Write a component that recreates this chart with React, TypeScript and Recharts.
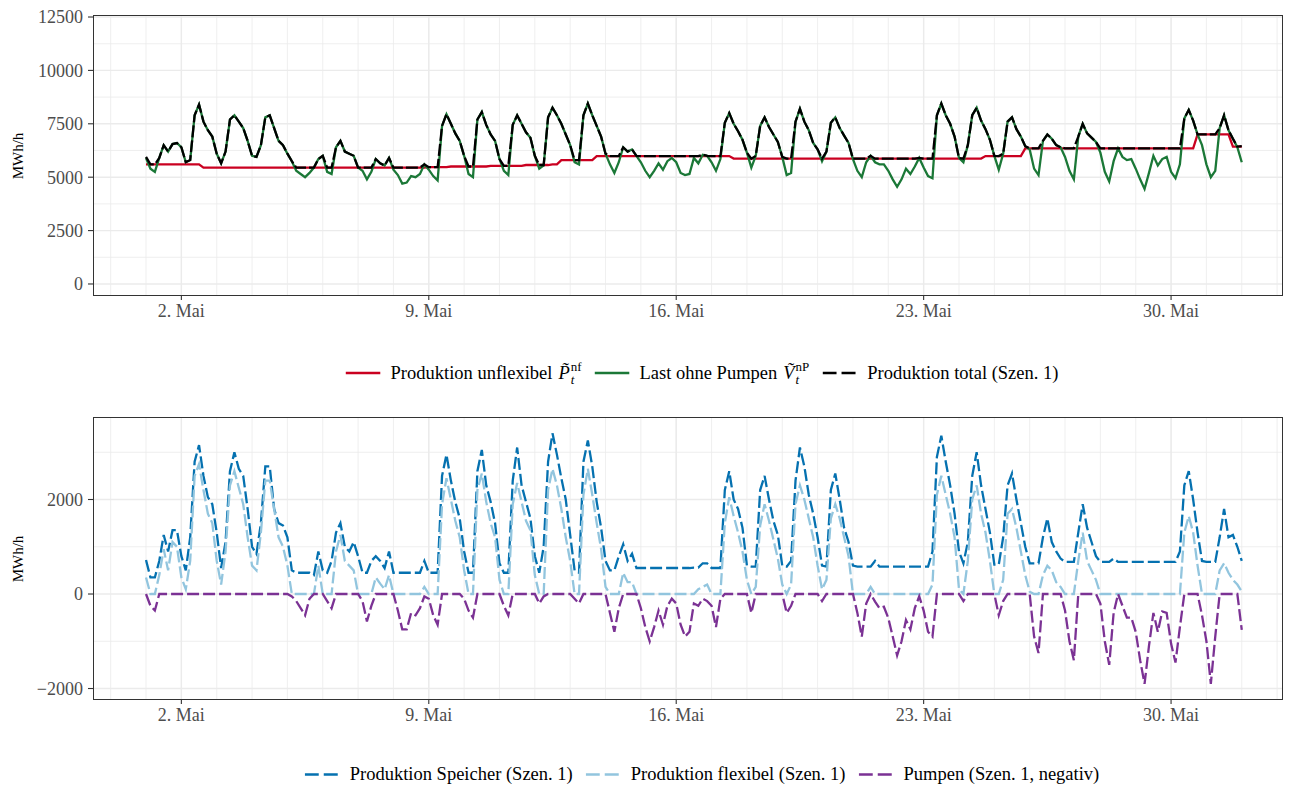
import React from "react";
import { LineChart, Line, XAxis, YAxis, CartesianGrid } from "recharts";

// Stunden seit 1. Mai 00:00, Raster 3 h (31 Tage + Endpunkt)
const hours = Array.from({ length: 249 }, (_, i) => i * 3);

const xTickHours = [24, 192, 360, 528, 696];
const xTickLabels = ["2. Mai", "9. Mai", "16. Mai", "23. Mai", "30. Mai"];
const dayLines = Array.from({ length: 34 }, (_, i) => (i - 1) * 24);

const topTicks = [0, 2500, 5000, 7500, 10000, 12500];
const topMinor = [1250, 3750, 6250, 8750, 11250];
const botTicks = [-2000, 0, 2000];
const botMinor = [-1000, 1000, 3000];

// Produktion unflexibel
const unflexibel = [
  5600, 5600, 5600, 5600, 5600, 5600, 5600, 5600,
  5600, 5600, 5600, 5600, 5600, 5450, 5450, 5450,
  5450, 5450, 5450, 5450, 5450, 5450, 5450, 5450,
  5450, 5450, 5450, 5450, 5450, 5450, 5450, 5450,
  5450, 5450, 5450, 5450, 5450, 5450, 5450, 5450,
  5450, 5450, 5450, 5450, 5450, 5450, 5450, 5450,
  5450, 5450, 5450, 5450, 5450, 5450, 5450, 5450,
  5450, 5450, 5450, 5450, 5450, 5450, 5450, 5450,
  5470, 5470, 5470, 5470, 5470, 5500, 5500, 5500,
  5500, 5500, 5500, 5500, 5500, 5500, 5530, 5530,
  5530, 5530, 5530, 5530, 5530, 5530, 5570, 5570,
  5570, 5570, 5570, 5570, 5600, 5600, 5800, 5800,
  5800, 5800, 5800, 5800, 5800, 5800, 5990, 5990,
  5990, 5990, 5990, 5990, 5990, 5990, 5990, 5990,
  5990, 5990, 5990, 5990, 5990, 5990, 5990, 5990,
  5990, 5990, 5990, 5990, 5990, 5990, 5990, 5990,
  5990, 5990, 5990, 5990, 5990, 5870, 5870, 5870,
  5870, 5870, 5870, 5870, 5870, 5870, 5870, 5870,
  5870, 5870, 5870, 5870, 5870, 5870, 5870, 5870,
  5870, 5870, 5870, 5870, 5870, 5870, 5870, 5870,
  5870, 5870, 5870, 5870, 5870, 5870, 5870, 5870,
  5870, 5870, 5870, 5870, 5870, 5870, 5870, 5870,
  5870, 5870, 5870, 5870, 5870, 5870, 5870, 5870,
  5870, 5870, 5870, 5870, 5870, 5870, 5990, 5990,
  5990, 5990, 5990, 5990, 5990, 5990, 5990, 6350,
  6350, 6350, 6350, 6350, 6350, 6350, 6350, 6350,
  6350, 6350, 6350, 6350, 6350, 6350, 6350, 6350,
  6350, 6350, 6350, 6350, 6350, 6350, 6350, 6350,
  6350, 6350, 6350, 6350, 6350, 6350, 6350, 6350,
  6350, 6350, 6350, 6350, 6350, 6350, 7000, 7000,
  7000, 7000, 7000, 7000, 7000, 7000, 6430, 6430,
  6430,
];

// Last ohne Pumpen
const lastOhnePumpen = [
  5900, 5400, 5250, 5900, 6500, 6200, 6550, 6600,
  6400, 5700, 5800, 7900, 8400, 7600, 7200, 6900,
  6100, 5650, 6200, 7700, 7900, 7600, 7300, 6700,
  6000, 5950, 6500, 7800, 7900, 7300, 6700, 6500,
  6100, 5750, 5300, 5150, 5000, 5200, 5450, 5850,
  6000, 5250, 5150, 6400, 6700, 6200, 6100, 6000,
  5450, 5300, 4900, 5250, 5850, 5650, 5550, 5900,
  5350, 5100, 4700, 4750, 5050, 5000, 5150, 5600,
  5350, 5050, 4850, 7400, 7950, 7500, 7050, 6700,
  6000, 5150, 5000, 7700, 8050, 7450, 7000, 6700,
  5850, 5300, 5100, 7450, 7900, 7500, 7100, 6850,
  6000, 5400, 5550, 7800, 8250, 7900, 7500, 7000,
  6500, 5700, 5600, 7900, 8450, 7900, 7400, 6900,
  6100, 5600, 5200, 5700, 6400, 6200, 6300, 6000,
  5700, 5300, 5000, 5300, 5650, 5350, 5750, 5900,
  5700, 5200, 5100, 5150, 5900, 5650, 6050, 6000,
  5700, 5300, 5850, 7550, 8000, 7500, 7150, 6750,
  6150, 5450, 6000, 7400, 7800, 7350, 7000, 6650,
  5950, 5100, 5200, 7600, 8200, 7600, 7200, 6600,
  6300, 5750, 6200, 7550, 7800, 7300, 6950, 6600,
  5850, 5300, 5000, 5700, 6000, 5700, 5600, 5600,
  5300, 4900, 4550, 4900, 5400, 5150, 5500, 5900,
  5450, 5050, 4950, 7900, 8450, 7900, 7500, 6900,
  5900, 5700, 6500, 7900, 8250, 7650, 7250, 6750,
  6000, 5350, 6100, 7600, 7800, 7250, 6900, 6450,
  6300, 5400, 5100, 6700, 7000, 6800, 6500, 6400,
  5950, 5300, 4900, 6900, 7500, 7050, 6850, 6650,
  6150, 5250, 4800, 5750, 6350, 5950, 5800, 5850,
  5400, 4900, 4450, 5200, 6000, 5550, 5850, 5950,
  5250, 4950, 5600, 7750, 8150, 7650, 7000, 6500,
  5600, 5000, 5300, 7300, 7900, 7200, 6800, 6400,
  5700,
];

// Produktion total (Szen. 1)
const produktionTotal = [
  5950, 5600, 5600, 5900, 6500, 6200, 6550, 6600,
  6400, 5700, 5800, 7900, 8400, 7600, 7200, 6900,
  6100, 5650, 6200, 7700, 7900, 7600, 7300, 6700,
  6000, 5950, 6500, 7800, 7900, 7300, 6700, 6500,
  6100, 5750, 5450, 5450, 5450, 5450, 5450, 5850,
  6000, 5450, 5450, 6400, 6700, 6200, 6100, 6000,
  5450, 5450, 5450, 5450, 5850, 5650, 5550, 5900,
  5450, 5450, 5450, 5450, 5450, 5450, 5450, 5600,
  5470, 5470, 5470, 7400, 7950, 7500, 7050, 6700,
  6000, 5500, 5500, 7700, 8050, 7450, 7000, 6700,
  5850, 5530, 5530, 7450, 7900, 7500, 7100, 6850,
  6000, 5570, 5570, 7800, 8250, 7900, 7500, 7000,
  6500, 5800, 5800, 7900, 8450, 7900, 7400, 6900,
  6100, 5990, 5990, 5990, 6400, 6200, 6300, 6000,
  5990, 5990, 5990, 5990, 5990, 5990, 5990, 5990,
  5990, 5990, 5990, 5990, 5990, 5990, 6050, 6000,
  5990, 5990, 5990, 7550, 8000, 7500, 7150, 6750,
  6150, 5870, 6000, 7400, 7800, 7350, 7000, 6650,
  5950, 5870, 5870, 7600, 8200, 7600, 7200, 6600,
  6300, 5870, 6200, 7550, 7800, 7300, 6950, 6600,
  5870, 5870, 5870, 5870, 6000, 5870, 5870, 5870,
  5870, 5870, 5870, 5870, 5870, 5870, 5870, 5900,
  5870, 5870, 5870, 7900, 8450, 7900, 7500, 6900,
  5900, 5870, 6500, 7900, 8250, 7650, 7250, 6750,
  6000, 5990, 6100, 7600, 7800, 7250, 6900, 6450,
  6350, 6350, 6350, 6700, 7000, 6800, 6500, 6400,
  6350, 6350, 6350, 6900, 7500, 7050, 6850, 6650,
  6350, 6350, 6350, 6350, 6350, 6350, 6350, 6350,
  6350, 6350, 6350, 6350, 6350, 6350, 6350, 6350,
  6350, 6350, 6350, 7750, 8150, 7650, 7000, 7000,
  7000, 7000, 7000, 7300, 7900, 7200, 6800, 6430,
  6450,
];

// Produktion Speicher (Szen. 1)
const speicher = [
  720, 350, 350, 700, 1250, 900, 1350, 1350,
  800, 500, 1200, 2800, 3150, 2500, 2050, 1900,
  1300, 550, 1100, 2600, 3000, 2650, 2500, 1800,
  1000, 850, 1500, 2700, 2700, 1800, 1500, 1450,
  1200, 500, 450, 450, 450, 450, 400, 900,
  500, 450, 700, 1300, 1500, 1000, 900, 1100,
  800, 450, 450, 700, 800, 700, 550, 900,
  450, 450, 450, 450, 450, 450, 450, 700,
  450, 450, 450, 2500, 2950, 2400, 1950, 1600,
  900, 450, 450, 2600, 3050, 2300, 1950, 1500,
  650, 450, 450, 2400, 3100, 2300, 1950, 1600,
  800, 450, 1000, 2800, 3400, 2950, 2450, 2000,
  1250, 500, 450, 2800, 3250, 2700, 1950, 1400,
  700, 500, 500, 800, 1050, 700, 850, 550,
  550, 550, 550, 550, 550, 550, 550, 550,
  550, 550, 550, 550, 560, 560, 650, 650,
  550, 550, 550, 2200, 2600, 2000, 1800, 1400,
  600, 580, 580, 2200, 2500, 2000, 1550, 1250,
  600, 580, 700, 2400, 3100, 2700, 2100, 1700,
  1200, 600, 580, 2200, 2550, 2000, 1400, 1100,
  600, 580, 580, 580, 580, 700, 580, 580,
  580, 580, 580, 580, 580, 580, 580, 580,
  580, 580, 900, 2900, 3350, 2800, 2300, 1700,
  900, 650, 1100, 2500, 3000, 2300, 1800, 1300,
  620, 620, 1200, 2300, 2550, 2000, 1500, 1000,
  650, 650, 650, 1200, 1600, 1100, 900, 750,
  680, 680, 680, 1300, 1900, 1400, 1100, 800,
  680, 680, 680, 750, 680, 680, 680, 680,
  680, 680, 680, 680, 680, 680, 680, 680,
  680, 680, 900, 2300, 2600, 2000, 1300, 700,
  680, 680, 680, 1200, 1800, 1200, 1250, 1000,
  700,
];

// Produktion flexibel (Szen. 1)
const flexibel = [
  350, 0, 0, 400, 950, 500, 1100, 1000,
  350, 100, 700, 2500, 2750, 2200, 1700, 1500,
  700, 200, 900, 2300, 2600, 2250, 1900, 1200,
  600, 500, 1300, 2400, 2400, 1800, 1200, 1000,
  600, 0, 0, 0, 0, 0, 0, 600,
  0, 0, 0, 900, 1250, 700, 600, 500,
  0, 0, 0, 0, 350, 220, 100, 400,
  0, 0, 0, 0, 0, 0, 0, 150,
  0, 0, 0, 1900, 2450, 2000, 1550, 1200,
  500, 0, 0, 2200, 2550, 1950, 1500, 1200,
  300, 0, 0, 1900, 2350, 1950, 1550, 1350,
  400, 0, 0, 2200, 2650, 2300, 1800, 1200,
  700, 0, 0, 2100, 2650, 2100, 1500, 950,
  150, 0, 0, 0, 450, 250, 250, 0,
  0, 0, 0, 0, 0, 0, 0, 0,
  0, 0, 0, 0, 0, 100, 150, 200,
  0, 0, 0, 1500, 2050, 1650, 1300, 900,
  300, 0, 150, 1450, 1900, 1550, 1150, 750,
  200, 0, 200, 1900, 2300, 2000, 1600, 1200,
  600, 100, 300, 1600, 1900, 1600, 1200, 800,
  0, 0, 0, 0, 150, 0, 0, 0,
  0, 0, 0, 0, 0, 0, 0, 0,
  0, 0, 200, 2100, 2500, 2100, 1700, 1200,
  100, 0, 700, 2000, 2300, 1700, 1300, 700,
  0, 0, 300, 1700, 1800, 1400, 900, 400,
  50, 0, 0, 400, 600, 500, 250, 150,
  0, 0, 0, 700, 1300, 700, 500, 300,
  0, 0, 0, 0, 0, 0, 0, 0,
  0, 0, 0, 0, 0, 0, 0, 0,
  0, 0, 0, 1300, 1650, 1300, 600, 0,
  0, 0, 0, 500, 650, 450, 300, 200,
  50,
];

// Pumpen (Szen. 1, negativ)
const pumpen = [
  0, -250, -350, 0, 0, 0, 0, 0,
  0, 0, 0, 0, 0, 0, 0, 0,
  0, 0, 0, 0, 0, 0, 0, 0,
  0, 0, 0, 0, 0, 0, 0, 0,
  0, -50, -150, -300, -450, -100, 0, 0,
  0, -150, -300, 0, 0, 0, 0, 0,
  0, -150, -580, -250, 0, 0, 0, 0,
  0, -350, -750, -750, -400, -450, -300, -50,
  -100, -450, -650, 0, 0, 0, 0, 0,
  -100, -350, -500, 0, 0, 0, 0, 0,
  0, -250, -450, 0, 0, 0, 0, 0,
  0, -200, -50, 0, 0, 0, 0, 0,
  0, -100, -200, 0, 0, 0, 0, 0,
  0, -400, -800, -300, 0, 0, 0, 0,
  -300, -700, -1000, -700, -350, -650, -250, -100,
  -200, -650, -900, -800, -200, -250, -100, -150,
  -250, -700, -100, 0, 0, 0, 0, 0,
  0, -400, 0, 0, 0, 0, 0, 0,
  0, -400, -250, 0, 0, 0, 0, 0,
  0, -150, 0, 0, 0, 0, 0, 0,
  0, -400, -900, -200, 0, -160, -300, -270,
  -510, -900, -1300, -1000, -550, -750, -300, -50,
  -350, -800, -900, 0, 0, 0, 0, 0,
  0, -150, 0, 0, 0, 0, 0, 0,
  0, -450, -150, 0, 0, 0, 0, 0,
  0, -900, -1250, 0, 0, 0, 0, 0,
  -350, -1000, -1400, 0, 0, 0, 0, 0,
  -200, -1000, -1500, -400, 0, -250, -500, -500,
  -800, -1400, -1900, -1100, -400, -800, -370, -400,
  -1050, -1450, -700, 0, 0, 0, 0, -450,
  -1000, -1900, -900, 0, 0, 0, 0, 0,
  -760,
];

const topData = hours.map((h, i) => ({
  h,
  unflex: unflexibel[i],
  last: lastOhnePumpen[i],
  total: produktionTotal[i],
}));

const bottomData = hours.map((h, i) => ({
  h,
  speicher: speicher[i],
  flex: flexibel[i],
  pumpen: pumpen[i],
}));

const FONT = "'Liberation Serif', 'DejaVu Serif', serif";
const RED = "#CA0020";
const GREEN = "#1B7837";
const BLUE = "#0571B0";
const LIGHT = "#92C5DE";
const PURPLE = "#7B3294";

const fmtX = (v: number) => xTickLabels[xTickHours.indexOf(v)] ?? "";
const fmtY = (v: number) => (v < 0 ? "\u2212" + Math.abs(v) : String(v));

const tickStyle = { fill: "#4D4D4D", fontSize: 18, fontFamily: FONT };

function Panel({ data, top, height, domain, ticks, minor, children }: any) {
  return (
    <div style={{ position: "absolute", left: 0, top, width: 1298, height }}>
      <LineChart
        width={1298}
        height={height}
        data={data}
        margin={{ top: 15, right: 15, bottom: 0, left: 0 }}
      >
        <CartesianGrid
          horizontalValues={minor}
          verticalValues={dayLines}
          stroke="#EBEBEB"
          strokeWidth={0.8}
        />
        <CartesianGrid
          horizontalValues={ticks}
          verticalValues={xTickHours}
          stroke="#EBEBEB"
          strokeWidth={1.4}
        />
        <XAxis
          dataKey="h"
          type="number"
          domain={[-36, 772]}
          allowDataOverflow
          ticks={xTickHours}
          tickFormatter={fmtX}
          height={34}
          tick={tickStyle}
          tickSize={4}
          tickMargin={4}
          axisLine={false}
          tickLine={{ stroke: "#333333", strokeWidth: 1.1 }}
        />
        <YAxis
          type="number"
          domain={domain}
          allowDataOverflow
          ticks={ticks}
          tickFormatter={fmtY}
          width={93}
          tick={tickStyle}
          tickSize={5}
          tickMargin={5}
          axisLine={false}
          tickLine={{ stroke: "#333333", strokeWidth: 1.1 }}
        />
        {children}
      </LineChart>
      <div
        style={{
          position: "absolute",
          left: 93,
          top: 15,
          width: 1190,
          height: height - 15 - 34,
          border: "1.3px solid #333333",
          boxSizing: "border-box",
          pointerEvents: "none",
        }}
      />
      <div
        style={{
          position: "absolute",
          left: 18,
          top: 15 + (height - 49) / 2,
          transform: "translate(-50%, -50%) rotate(-90deg)",
          fontFamily: FONT,
          fontSize: 15,
          color: "#000",
          whiteSpace: "nowrap",
        }}
      >
        MWh/h
      </div>
    </div>
  );
}

function Key({ color, dash, width }: { color: string; dash?: string; width: number }) {
  return (
    <svg width={width} height={12} style={{ display: "block" }}>
      <line x1={0} y1={6} x2={width} y2={6} stroke={color} strokeWidth={2.4} strokeDasharray={dash} />
    </svg>
  );
}

function Sym({ base, sup }: { base: string; sup: string }) {
  return (
    <span style={{ display: "inline-flex", alignItems: "center", marginLeft: 6 }}>
      <span style={{ fontStyle: "italic" }}>{base}</span>
      <span
        style={{
          display: "inline-flex",
          flexDirection: "column",
          fontSize: 13,
          lineHeight: "13px",
          marginLeft: 1,
        }}
      >
        <span>{sup}</span>
        <span style={{ fontStyle: "italic" }}>t</span>
      </span>
    </span>
  );
}

function LegendRow({ top, items }: { top: number; items: any[] }) {
  return (
    <div
      style={{
        position: "absolute",
        left: 702,
        top,
        transform: "translate(-50%, -50%)",
        display: "flex",
        alignItems: "center",
        fontFamily: FONT,
        fontSize: 18.5,
        color: "#000",
        whiteSpace: "nowrap",
      }}
    >
      {items.map((it, i) => (
        <div key={i} style={{ display: "flex", alignItems: "center", marginRight: i < items.length - 1 ? 13 : 0 }}>
          <Key color={it.color} dash={it.dash} width={35} />
          <span style={{ marginLeft: 10, display: "inline-flex", alignItems: "center" }}>{it.label}</span>
        </div>
      ))}
    </div>
  );
}

export default function App() {
  return (
    <div
      style={{
        position: "absolute",
        left: 0,
        top: 0,
        width: 1298,
        height: 789,
        background: "#fff",
        overflow: "hidden",
      }}
    >
      <Panel data={topData} top={0} height={330} domain={[-563, 12594]} ticks={topTicks} minor={topMinor}>
        <Line type="linear" dataKey="unflex" stroke={RED} strokeWidth={2.3} dot={false} isAnimationActive={false} />
        <Line type="linear" dataKey="last" stroke={GREEN} strokeWidth={2.3} dot={false} isAnimationActive={false} />
        <Line
          type="linear"
          dataKey="total"
          stroke="#000000"
          strokeWidth={2.3}
          strokeDasharray="12 3"
          dot={false}
          isAnimationActive={false}
        />
      </Panel>
      <LegendRow
        top={373}
        items={[
          { color: RED, label: <>Produktion unflexibel<Sym base={"P\u0303"} sup="nf" /></> },
          { color: GREEN, label: <>Last ohne Pumpen<Sym base={"V\u0303"} sup="nP" /></> },
          { color: "#000000", dash: "14 5", label: "Produktion total (Szen. 1)" },
        ]}
      />
      <Panel data={bottomData} top={402} height={332} domain={[-2243, 3746]} ticks={botTicks} minor={botMinor}>
        <Line
          type="linear"
          dataKey="speicher"
          stroke={BLUE}
          strokeWidth={2.3}
          strokeDasharray="12 4"
          dot={false}
          isAnimationActive={false}
        />
        <Line
          type="linear"
          dataKey="flex"
          stroke={LIGHT}
          strokeWidth={2.3}
          strokeDasharray="12 4"
          dot={false}
          isAnimationActive={false}
        />
        <Line
          type="linear"
          dataKey="pumpen"
          stroke={PURPLE}
          strokeWidth={2.3}
          strokeDasharray="12 4"
          dot={false}
          isAnimationActive={false}
        />
      </Panel>
      <LegendRow
        top={774}
        items={[
          { color: BLUE, dash: "14 5", label: "Produktion Speicher (Szen. 1)" },
          { color: LIGHT, dash: "14 5", label: "Produktion flexibel (Szen. 1)" },
          { color: PURPLE, dash: "14 5", label: "Pumpen (Szen. 1, negativ)" },
        ]}
      />
    </div>
  );
}
